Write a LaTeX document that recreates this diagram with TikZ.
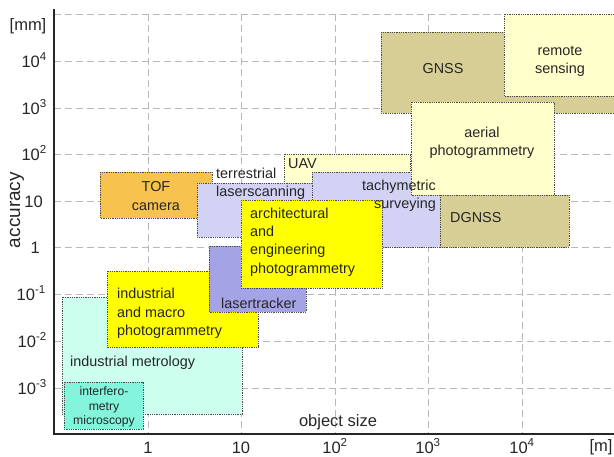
\documentclass[tikz,border=0pt]{standalone}
\usepackage{fontspec}
\setmainfont{Liberation Sans}

\definecolor{gnsscol}{HTML}{D6CE94}
\definecolor{palecol}{HTML}{FFFFCC}
\definecolor{lavcol}{HTML}{D2D2F5}
\definecolor{trackcol}{HTML}{A3A3E6}
\definecolor{tofcol}{HTML}{F8C24E}
\definecolor{yelcol}{HTML}{FFFF00}
\definecolor{mintcol}{HTML}{CCFFEE}
\definecolor{aquacol}{HTML}{84F5DC}

\tikzset{
  box/.style={draw=black!70, line width=0.8pt, dash pattern=on 0.9pt off 0.9pt},
  gridline/.style={black!28, line width=0.9pt, dash pattern=on 7pt off 4pt},
  lbl/.style={text=black!85, inner sep=0pt, font=\fontsize{14.4}{18.3}\selectfont},
  axlbl/.style={text=black!85, inner sep=0pt, font=\fontsize{16.5}{19}\selectfont},
}

\begin{document}
\begin{tikzpicture}[x=1pt,y=-1pt]
\useasboundingbox (0,0) rectangle (614,456);

\begin{scope}
\clip (0,0) rectangle (614,456);
% grid
\foreach \y in {14,61,108,154,201,247,294,341,388}
  \draw[gridline] (54,\y) -- (614,\y);
\foreach \x in {148,241,335,428,522}
  \draw[gridline] (\x,14) -- (\x,434);

% ranges, back to front
\draw[box, fill=mintcol] (62,297) rectangle (242,414);
\draw[box, fill=aquacol] (64,382) rectangle (143,429);
\draw[box, fill=yelcol] (107,271) rectangle (258,347);
\draw[box, fill=tofcol] (100,172) rectangle (212,218);
\draw[box, fill=palecol] (284,154) rectangle (410,210);
\draw[box, fill=lavcol] (197,183) rectangle (320,237);
\draw[box, fill=trackcol] (209,246) rectangle (306,312);
\draw[box, fill=lavcol] (312,172) rectangle (440,247);
\draw[box, fill=yelcol] (241,200) rectangle (382,288);
\draw[box, fill=gnsscol] (381,32) rectangle (620,113);
\draw[box, fill=palecol] (504,14) rectangle (620,96);
\draw[box, fill=palecol] (411,102) rectangle (554,195);
\draw[box, fill=gnsscol] (440,195) rectangle (569,247);
\end{scope}

% axes
\draw[black!85, line width=1.8pt] (54,9) -- (54,434) -- (614,434);

% range labels
\node[lbl, align=center] (tof) at (156,196) {TOF\\camera};
\node[lbl, align=left, anchor=west] (tls) at (216,184) {terrestrial\\laserscanning};
\node[lbl, anchor=west] (uav) at (288,164) {UAV};
\node[lbl, align=right, anchor=east] (tachy) at (436,196) {tachymetric\\surveying};
\node[lbl, align=left, anchor=west] (arch) at (250,242) {architectural\\and\\engineering\\photogrammetry};
\node[lbl, anchor=west] (track) at (221,303) {lasertracker};
\node[lbl, align=left, anchor=west] (macro) at (117,313.5) {industrial\\and macro\\photogrammetry};
\node[lbl, anchor=west] (metro) at (70,363) {industrial metrology};
\node[lbl, align=center, font=\fontsize{12.2}{14.6}\selectfont] (interf) at (104,407) {interfero-\\metry\\microscopy};
\node[lbl] (gnss) at (443,69) {GNSS};
\node[lbl, align=center] (remote) at (560,61) {remote\\sensing};
\node[lbl, align=center] (aerial) at (482,142.5) {aerial\\photogrammetry};
\node[lbl, anchor=west] (dgnss) at (450,218) {DGNSS};

% axis labels
\node[axlbl] (mm) at (28,26) {[mm]};
\node[axlbl, rotate=90, font=\fontsize{19}{22}\selectfont] (acc) at (17,210) {accuracy};
\node[axlbl, anchor=base east] (y4) at (47,67) {10\textsuperscript{4}};
\node[axlbl, anchor=base east] (y3) at (47,114) {10\textsuperscript{3}};
\node[axlbl, anchor=base east] (y2) at (47,160) {10\textsuperscript{2}};
\node[axlbl, anchor=base east] (y1) at (43,207) {10};
\node[axlbl, anchor=base east] (y0) at (40,253) {1};
\node[axlbl, anchor=base east] (ym1) at (46,300) {10\textsuperscript{-1}};
\node[axlbl, anchor=base east] (ym2) at (47,347) {10\textsuperscript{-2}};
\node[axlbl, anchor=base east] (ym3) at (47,394) {10\textsuperscript{-3}};

\node[axlbl, anchor=base] (x0) at (148,453) {1};
\node[axlbl, anchor=base] (x1) at (241,453) {10};
\node[axlbl, anchor=base] (x2) at (335,453) {10\textsuperscript{2}};
\node[axlbl, anchor=base] (x3) at (428,453) {10\textsuperscript{3}};
\node[axlbl, anchor=base] (x4) at (522,453) {10\textsuperscript{4}};
\node[axlbl, anchor=base] (munit) at (601,451) {[m]};
\node[axlbl] (osize) at (338,422) {object size};
\end{tikzpicture}
\end{document}
